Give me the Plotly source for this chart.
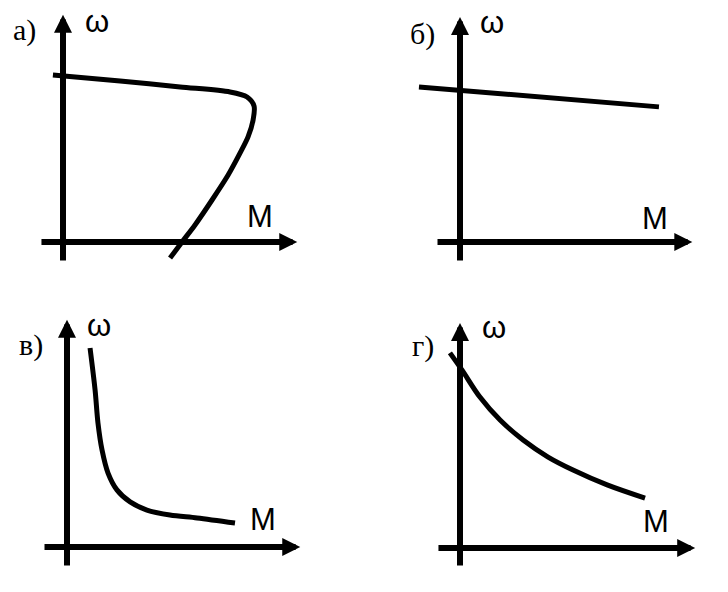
import plotly.graph_objects as go

# ---------------- data (arbitrary units: M to the right, ω upward) ----------------
curve_a_M = [-0.42, 2.38, 4.88, 6.96, 7.67, 7.96, 7.92, 7.71, 7.38, 6.88, 6.21, 5.50, 4.96, 4.46]
curve_a_w = [6.96, 6.71, 6.46, 6.25, 6.04, 5.67, 5.08, 4.38, 3.71, 2.79, 1.75, 0.71, 0.00, -0.67]

curve_b_M = [-1.71, 8.29]
curve_b_w = [6.46, 5.63]

curve_c_M = [0.96, 1.17, 1.29, 1.46, 1.71, 2.08, 2.63, 3.33, 4.29, 5.42, 7.00]
curve_c_w = [8.29, 6.54, 5.17, 4.04, 3.08, 2.38, 1.88, 1.54, 1.33, 1.21, 1.00]

curve_d_M = [-0.42, 0.08, 0.83, 1.67, 2.63, 3.67, 4.71, 6.13, 7.71]
curve_d_w = [8.13, 7.42, 6.29, 5.33, 4.50, 3.79, 3.25, 2.63, 2.08]

panel_labels = ["а)", "б)", "в)", "г)"]
x_axis_title = "M"
y_axis_title = "ω"

curves_M = [curve_a_M, curve_b_M, curve_c_M, curve_d_M]
curves_w = [curve_a_w, curve_b_w, curve_c_w, curve_d_w]
curve_shapes = ["spline", "linear", "spline", "spline"]
curve_smoothing = [0.8, 1.0, 0.9, 1.0]

# ---------------- layout ----------------
W, H = 728, 592
UNIT = 24.0  # pixels per unit
origins_px = [(63, 242), (460, 242), (67, 547), (460, 548)]
LEFT, RIGHT, DOWN, UP = 50, 250, 30, 240

axis_x_start = [-0.96, -1.0, -1.0, -0.96]
axis_x_tip = [9.96, 9.88, 9.92, 10.0]
axis_y_start = [-0.83, -0.83, -0.83, -0.79]
axis_y_tip = [9.67, 9.58, 9.67, 9.58]

label_pos = [(-1.62, 8.82), (-1.58, 8.65), (-1.50, 8.42), (-1.54, 8.40)]
w_pos = [(1.42, 9.19), (1.35, 9.15), (1.35, 9.23), (1.40, 9.19)]
m_pos = [(8.19, 1.06), (8.13, 0.98), (8.15, 1.13), (8.15, 1.10)]

ARROW_BACK = 0.2  # arrow tip extends past the end point

fig = go.Figure()
annotations = []
layout_axes = {}

for i in range(4):
    ox, oy = origins_px[i]
    xn = "" if i == 0 else str(i + 1)
    xa, ya = "xaxis" + xn, "yaxis" + xn
    xr, yr = "x" + xn, "y" + xn
    layout_axes[xa] = dict(
        domain=[(ox - LEFT) / W, (ox + RIGHT) / W],
        range=[-LEFT / UNIT, RIGHT / UNIT],
        visible=False, fixedrange=True, anchor=yr,
    )
    layout_axes[ya] = dict(
        domain=[1 - (oy + DOWN) / H, 1 - (oy - UP) / H],
        range=[-DOWN / UNIT, UP / UNIT],
        visible=False, fixedrange=True, anchor=xr,
    )
    fig.add_trace(go.Scatter(
        x=curves_M[i], y=curves_w[i], mode="lines",
        line=dict(color="black", width=5, shape=curve_shapes[i],
                  smoothing=curve_smoothing[i]),
        xaxis=xr, yaxis=yr, hoverinfo="skip", showlegend=False,
    ))
    # axis arrows
    arrow_common = dict(
        xref=xr, yref=yr, axref=xr, ayref=yr, text="", showarrow=True,
        arrowhead=2, arrowsize=0.6, arrowwidth=6, arrowcolor="black",
        font=dict(size=1),
    )
    annotations.append(dict(x=axis_x_tip[i] - ARROW_BACK, y=0,
                            ax=axis_x_start[i], ay=0, **arrow_common))
    annotations.append(dict(x=0, y=axis_y_tip[i] - ARROW_BACK,
                            ax=0, ay=axis_y_start[i], **arrow_common))
    # texts
    annotations.append(dict(x=label_pos[i][0], y=label_pos[i][1], xref=xr, yref=yr,
                            text=panel_labels[i], showarrow=False,
                            font=dict(family="Liberation Serif", size=30, color="black")))
    annotations.append(dict(x=w_pos[i][0], y=w_pos[i][1], xref=xr, yref=yr,
                            text=y_axis_title, showarrow=False,
                            font=dict(family="Liberation Sans", size=31, color="black")))
    annotations.append(dict(x=m_pos[i][0], y=m_pos[i][1], xref=xr, yref=yr,
                            text=x_axis_title, showarrow=False,
                            font=dict(family="Liberation Sans", size=31, color="black")))

fig.update_layout(
    width=W, height=H, margin=dict(l=0, r=0, t=0, b=0),
    paper_bgcolor="white", plot_bgcolor="white",
    annotations=annotations, showlegend=False, **layout_axes,
)

fig.write_html("out.html", config={"displayModeBar": False},
               post_script="document.body.style.margin='0px';")
